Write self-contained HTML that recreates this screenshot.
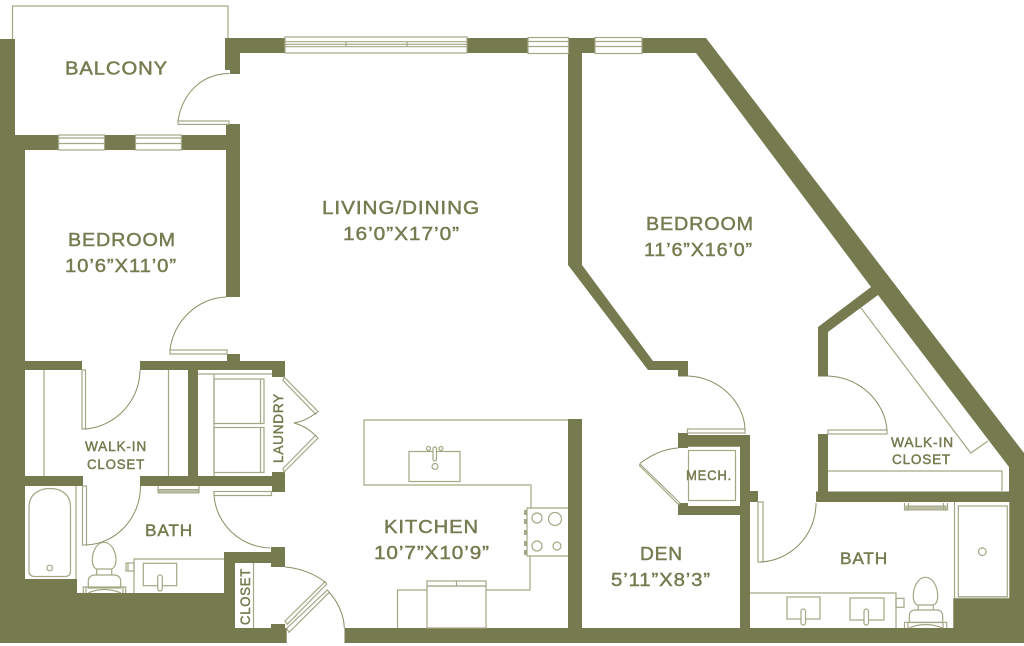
<!DOCTYPE html>
<html><head><meta charset="utf-8"><title>Floor plan</title>
<style>
html,body{margin:0;padding:0;background:#fff;width:1024px;height:646px;overflow:hidden}
svg{display:block}
.w{fill:#767a4f;stroke:none}
.l{fill:none;stroke:#a4a785;stroke-width:1.2}
.f{fill:#fff;stroke:#a4a785;stroke-width:1.2}
.a{fill:none;stroke:#8b8e65;stroke-width:1}
.b{fill:#bcbea4;stroke:#a4a785;stroke-width:1}
text{font-family:"Liberation Sans",sans-serif;fill:#767a4f;stroke:#767a4f;stroke-width:.45;letter-spacing:.8px}
</style></head><body>
<svg width="1024" height="646" viewBox="0 0 1024 646" xmlns="http://www.w3.org/2000/svg">
<!-- WALLS -->
<path class="w" d="M0 39H15V135H226V124H240V297H226V150H25V361H82V370H25V476H83V486H25V579H77V593H224V552H271V547H285V567H271V563H235V628H271V624H285V628H286.700V643H0Z"/>
<path class="w" d="M225 38H285V53H240V74H230V70H225Z"/>
<path class="w" d="M467 38H528V53H467Z"/>
<path class="w" d="M568 38H595V53H582V265L653 361H688V376.500H678V370H648L568 265Z"/>
<path class="w" d="M642 38H706L1024 453V643H344.500V628H568V419H582V628H740V515H678V503H688V506H740V446.700H688V448H678V433H688V435H750V491H758V502H750V628H953.300V598.300H1009.300V502H816V491.500H818V434H828V491.500H1009V467L878 295L828 332V376.500H818V327L871 287L696 53H642Z"/>
<path class="w" d="M140 361H227V354H240V361H285V377H272V370H198V476H272V472H285V492H272V486H140V476H188V370H140Z"/>
<!-- Balcony rail -->
<path class="l" d="M12.500 39V6H228V38"/>
<!-- Balcony door -->
<rect class="f" x="178" y="121" width="51" height="3.400"/>
<path class="a" d="M229 73.500C200 74 182 95 178 121"/>
<!-- Bedroom windows -->
<g class="f"><rect x="58.500" y="135" width="46" height="15"/><rect x="135.500" y="135" width="46" height="15"/></g>
<path class="l" d="M58.500 138H104.500M58.500 143.500H104.500M135.500 138H181.500M135.500 143.500H181.500"/>
<!-- Top windows -->
<rect class="f" x="285" y="37" width="182" height="16"/>
<path class="l" d="M285 41.700H467M285 44.300H467M285 46.700H467M346 42V46.500M407 42V46.500"/>
<rect class="f" x="528" y="37.500" width="40.500" height="16"/>
<rect class="f" x="595" y="37.500" width="47" height="16"/>
<path class="l" d="M528 41.500H568.500M528 46.500H568.500M595 41.500H642M595 46.500H642"/>
<!-- Bedroom door -->
<rect class="f" x="170" y="350" width="57" height="4"/>
<path class="a" d="M226 297C197 298 173 322 170 350"/>
<!-- Walk-in closet left -->
<path class="l" d="M44 370V476M168.500 370V476"/>
<rect class="f" x="82" y="370" width="3.500" height="59"/>
<path class="a" d="M140 370C140 401 115 427 85 429"/>
<!-- Bath left door -->
<rect class="f" x="82.500" y="486" width="4" height="59"/>
<path class="a" d="M140.500 486C140.500 518 116 544 86 545"/>
<!-- Tub -->
<path class="l" d="M76 486V579"/>
<path class="l" d="M29 507C29 495 38 488.500 50 488.500C62 488.500 70.500 495 70.500 507V571Q70.500 576.500 65 576.500H35Q29 576.500 29 571Z"/>
<circle class="l" cx="49.700" cy="568" r="2.800"/>
<!-- Left toilet -->
<path class="l" d="M104 542.300C111 542.300 116 551 116 560C116 565 114 568 112 569H96.500C94 568 92.300 565 92.300 560C92.300 551 97 542.300 104 542.300Z"/>
<path class="l" d="M96.700 569V575H111.700V569M94 575H115Q120.700 576 120.700 581V588H88.300V581Q88.300 576 94 575Z"/>
<path class="l" d="M83.300 593V587H125.700V593M86 587V593M123 587V593M88 593Q104 586 121 593"/>
<!-- Left vanity -->
<path class="l" d="M134 593V559H224"/>
<rect class="l" x="143.300" y="563.300" width="33.400" height="22.400"/>
<rect class="f" x="157.700" y="575" width="4.600" height="16" rx="2.200"/>
<rect class="l" x="126" y="563" width="8" height="8"/>
<path class="l" d="M128 563V571"/>
<rect class="b" x="158" y="489.500" width="41" height="3.500"/>
<path class="l" d="M158 486V493M199 486V493"/>
<!-- Bath left east door -->
<rect class="f" x="214" y="491.500" width="57.500" height="4"/>
<path class="a" d="M214 495C216 524 240 547 270 548"/>
<!-- Laundry -->
<path class="l" d="M198 374H272M214 374V476"/>
<rect class="l" x="214" y="379" width="50" height="44.500"/>
<rect class="l" x="214" y="427.500" width="50" height="45"/>
<path class="l" d="M260.500 379V423.500M260.500 427.500V472.500"/>
<path class="f" d="M284 377L318 411.500L315.500 414L283 380.500Z"/>
<path class="f" d="M284 472L318 438L315.500 435.500L283 468.500Z"/>
<path class="a" d="M316 413Q306 421 294 423Q306 426 316 436"/>
<!-- Closet -->
<path class="l" d="M253.500 563V628"/>
<path class="f" d="M285 621L325 581.700L326.700 584L287.300 624.300Z"/>
<path class="f" d="M286.700 628.300L327.300 590L329.300 592.300L289 632.300Z"/>
<path class="a" d="M285 567C300 568 315 574 325.700 582.700M329 592C338 602 344 615 344.300 628"/>
<!-- Kitchen -->
<path class="l" d="M568 420H364V485H531V508"/>
<rect class="l" x="409" y="451.500" width="51" height="30"/>
<rect class="f" x="433" y="447" width="3.500" height="14" rx="1.700"/>
<circle class="l" cx="428.500" cy="448.500" r="2"/>
<circle class="l" cx="441" cy="448.500" r="2"/>
<circle class="l" cx="435" cy="466.500" r="3"/>
<path class="l" d="M568 508H527V556H568"/>
<g fill="#a4a785"><rect x="524" y="510" width="3" height="5"/><rect x="524" y="519" width="3" height="5"/><rect x="524" y="530" width="3" height="5"/><rect x="524" y="541" width="3" height="5"/><rect x="524" y="550" width="3" height="5"/></g>
<circle class="l" cx="537" cy="518" r="5"/>
<circle class="l" cx="555" cy="519" r="6.500"/>
<circle class="l" cx="537" cy="546" r="5"/>
<circle class="l" cx="557" cy="546" r="4"/>
<path class="l" d="M530 556V590H486M427 590H397.500V628"/>
<rect class="l" x="427" y="586" width="59" height="42"/>
<rect class="l" x="427" y="581" width="59" height="5"/>
<path class="l" d="M456.500 581V586"/>
<!-- Right bedroom door -->
<rect class="f" x="687.500" y="429" width="57.500" height="4"/>
<path class="a" d="M688 376C719 377 744 402 745 429"/>
<!-- Mech -->
<rect class="l" x="688.500" y="450.500" width="47" height="50"/>
<path class="a" d="M678 448C664 449 651 455 640 463.500"/>
<path class="f" d="M640 464L680 503L678.500 504.500L639.500 465.500Z"/>
<!-- Right walk-in -->
<rect class="f" x="828" y="430" width="59" height="4"/>
<path class="a" d="M828 376C860 377 885 402 887 430"/>
<path class="l" d="M861 308L970.700 453L988 441M828 471H1002V491"/>
<!-- Right bath -->
<rect class="f" x="758" y="502" width="5" height="60"/>
<path class="a" d="M816 503C816 536 790 561 760 562"/>
<rect class="b" x="906" y="506" width="40" height="4"/>
<path class="l" d="M904.500 503V510H908.500V503M943.500 503V510H947.500V503"/>
<path class="l" d="M954.500 502V598.300H1009"/>
<rect class="l" x="958.300" y="506" width="49" height="90.700"/>
<circle class="l" cx="982.300" cy="551.700" r="3.800"/>
<path class="l" d="M750 593H896V628"/>
<rect class="l" x="787" y="597" width="33" height="22"/>
<rect class="l" x="850" y="598" width="34" height="22"/>
<rect class="f" x="801" y="609" width="4.500" height="16" rx="2.200"/>
<rect class="f" x="864" y="609" width="4.500" height="16" rx="2.200"/>
<rect class="l" x="896" y="598.300" width="8" height="9"/>
<path class="l" d="M925.500 577.300C933 577.300 937.700 587 937.700 596C937.700 601 936 604 933.500 605H917.500C915 604 913.300 601 913.300 596C913.300 587 918 577.300 925.500 577.300Z"/>
<path class="l" d="M918.300 605V610H933.300V605M914 610H938Q942.700 611 942.700 616V622.500H909.300V616Q909.300 611 914 610Z"/>
<path class="l" d="M904.500 628V622.300H946.700V628M908 622.300V628M943 622.300V628M909.300 628Q925 621 942.700 628"/>
<!-- LABELS -->
<text x="65" y="74.500" font-size="18.500" textLength="103" lengthAdjust="spacingAndGlyphs">BALCONY</text>
<text x="322" y="214" font-size="18.500" textLength="158" lengthAdjust="spacingAndGlyphs">LIVING/DINING</text>
<text x="343" y="240" font-size="18.500" textLength="117" lengthAdjust="spacingAndGlyphs">16’0”X17’0”</text>
<text x="68" y="246" font-size="18.500" textLength="108" lengthAdjust="spacingAndGlyphs">BEDROOM</text>
<text x="65" y="272" font-size="18.500" textLength="112" lengthAdjust="spacingAndGlyphs">10’6”X11’0”</text>
<text x="646" y="230" font-size="18.500" textLength="108" lengthAdjust="spacingAndGlyphs">BEDROOM</text>
<text x="644" y="256" font-size="18.500" textLength="109" lengthAdjust="spacingAndGlyphs">11’6”X16’0”</text>
<text x="384" y="533" font-size="18.500" textLength="95" lengthAdjust="spacingAndGlyphs">KITCHEN</text>
<text x="374" y="559" font-size="18.500" textLength="116" lengthAdjust="spacingAndGlyphs">10’7”X10’9”</text>
<text x="640" y="560" font-size="18.500" textLength="43" lengthAdjust="spacingAndGlyphs">DEN</text>
<text x="611" y="586" font-size="18.500" textLength="100" lengthAdjust="spacingAndGlyphs">5’11”X8’3”</text>
<text x="840" y="564" font-size="17" textLength="48" lengthAdjust="spacingAndGlyphs">BATH</text>
<text x="145" y="536" font-size="17" textLength="48" lengthAdjust="spacingAndGlyphs">BATH</text>
<text x="85" y="451" font-size="13.500" textLength="62" lengthAdjust="spacingAndGlyphs">WALK-IN</text>
<text x="87" y="469" font-size="13.500" textLength="58" lengthAdjust="spacingAndGlyphs">CLOSET</text>
<text x="891" y="447" font-size="13.500" textLength="63" lengthAdjust="spacingAndGlyphs">WALK-IN</text>
<text x="892" y="464" font-size="13.500" textLength="59" lengthAdjust="spacingAndGlyphs">CLOSET</text>
<text x="686" y="480" font-size="13.500" textLength="46" lengthAdjust="spacingAndGlyphs">MECH.</text>
<text transform="translate(283 463) rotate(-90)" x="0" y="0" font-size="14" textLength="70" lengthAdjust="spacingAndGlyphs">LAUNDRY</text>
<text transform="translate(250 625) rotate(-90)" x="0" y="0" font-size="14" textLength="57" lengthAdjust="spacingAndGlyphs">CLOSET</text>
</svg>
</body></html>
